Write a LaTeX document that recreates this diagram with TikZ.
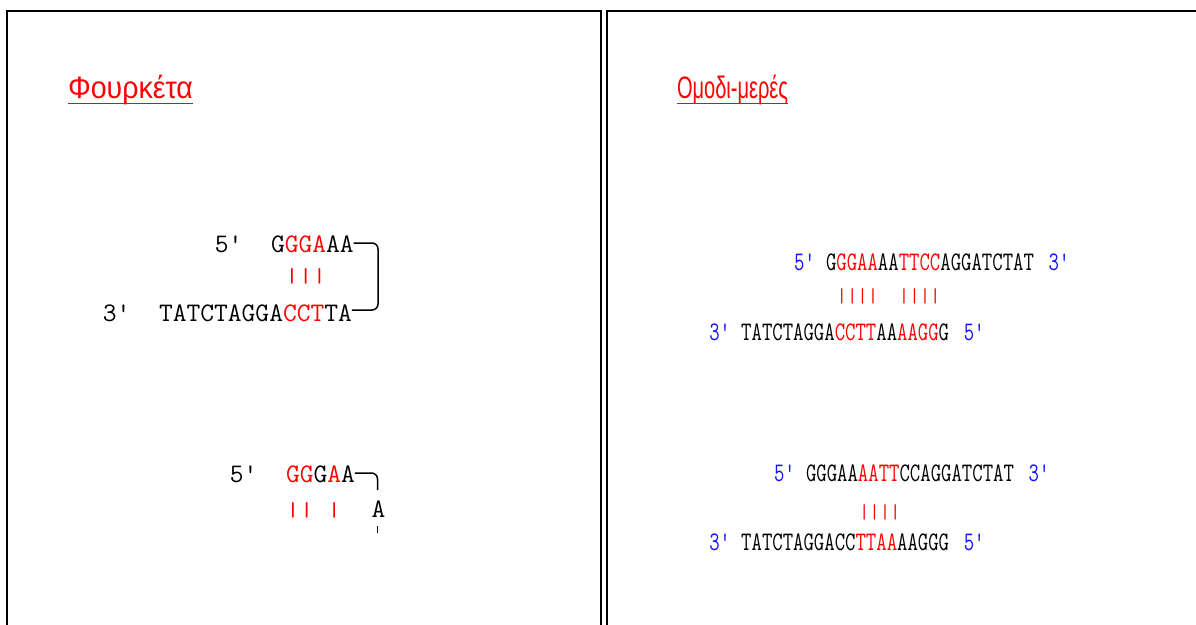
\documentclass[tikz,border=0pt]{standalone}
\usepackage{fontspec}
\usepackage{graphicx}
\setmainfont{Liberation Sans}
\definecolor{seqred}{RGB}{255,0,0}
\definecolor{seqblue}{RGB}{20,20,255}
\newcommand\rd[1]{\textcolor{seqred}{#1}}
\newcommand\bu[1]{\textcolor{seqblue}{#1}}
\newcommand\q{\textquotesingle}
\newcommand\cnd[1]{\scalebox{0.7544}[1]{#1}}
\newcommand\bars[1]{\scalebox{1}[0.75]{#1}}
\begin{document}
\begin{tikzpicture}[x=1pt,y=-1pt,
  every node/.style={inner sep=0pt,outer sep=0pt,anchor=base west},
  seq/.style={font=\fontsize{26.76}{27}\selectfont\ttfamily\addfontfeatures{FakeBold=0.8}},
  pairs/.style={seq,text=seqred},
  title/.style={font=\fontsize{31}{32}\selectfont,text=seqred},
  uline/.style={draw=seqred,line width=1.8pt},
  frame/.style={draw=black,line width=2.2pt},
  hook/.style={draw=black,line width=1.5pt,rounded corners=6pt}]
\useasboundingbox (0,0) rectangle (1196,624);
\fill[white] (0,0) rectangle (1196,624);
\draw[frame] (7,628) -- (7,11) -- (601,11) -- (601,628);
\draw[frame] (607,628) -- (607,11) -- (1200,11);

% titles
\node[title] (t1) at (68,98) {\resizebox{125pt}{\height}{Φουρκέτα}};
\draw[uline] ([yshift=-5.5pt]t1.base west) -- ([yshift=-5.5pt]t1.base east);
\node[title] (t2) at (677,98) {\resizebox{111pt}{\height}{Ομοδι-μερές}};
\draw[uline] ([yshift=-5.5pt]t2.base west) -- ([yshift=-5.5pt]t2.base east);

% left example 1
\node[seq] (l1a) at (214.8,252) {5\q};
\node[seq] (l1top) at (271,252) {G\rd{GGA}AA};
\node[pairs] (l1bars) at (285,282) {\bars{|||}};
\node[seq] (l1b) at (102.8,321) {3\q};
\node[seq] (l1bot) at (159,321) {TATCTAGGA\rd{CCT}TA};
\coordinate (l1corner) at (378,310);
\draw[hook] ([yshift=9pt]l1top.base east) -| (l1corner) -- ([yshift=11pt]l1bot.base east);

% left example 2
\node[seq] (l2a) at (229.8,482) {5\q};
\node[seq] (l2top) at (286,482) {\rd{GG}G\rd{A}A};
\node[pairs] (l2bars) at (286,516) {\bars{||~|}};
\node[seq,anchor=base] (l2A) at (378.5,517) {A};
\coordinate (l2end) at (377.5,490);
\draw[hook] ([yshift=9pt]l2top.base east) -| (l2end);
\coordinate (l2t1) at (377.5,526);
\coordinate (l2t2) at (377.5,533);
\draw[line width=1.5pt] (l2t1) -- (l2t2);

% right example 1
\node[seq] (r1a) at (794.2,270) {\cnd{\bu{5\q}}};
\node[seq] (r1top) at (826,270) {\cnd{G\rd{GGAA}AA\rd{TTCC}AGGATCTAT}};
\node[seq] (r1c) at (1048.6,270) {\cnd{\bu{3\q}}};
\node[pairs] (r1bars) at (836.6,302) {\cnd{\bars{||||~~||||}}};
\node[seq] (r1b) at (709.4,340) {\cnd{\bu{3\q}}};
\node[seq] (r1bot) at (741.2,340) {\cnd{TATCTAGGA\rd{CCTT}AA\rd{AAGG}G}};
\node[seq] (r1d) at (963.8,340) {\cnd{\bu{5\q}}};

% right example 2
\node[seq] (r2a) at (774.2,481) {\cnd{\bu{5\q}}};
\node[seq] (r2top) at (806,481) {\cnd{GGGAA\rd{AATT}CCAGGATCTAT}};
\node[seq] (r2c) at (1028.6,481) {\cnd{\bu{3\q}}};
\node[pairs] (r2bars) at (859,518) {\cnd{\bars{||||}}};
\node[seq] (r2b) at (709.4,550) {\cnd{\bu{3\q}}};
\node[seq] (r2bot) at (741.2,550) {\cnd{TATCTAGGACC\rd{TTAA}AAGGG}};
\node[seq] (r2d) at (963.8,550) {\cnd{\bu{5\q}}};
\end{tikzpicture}
\end{document}
